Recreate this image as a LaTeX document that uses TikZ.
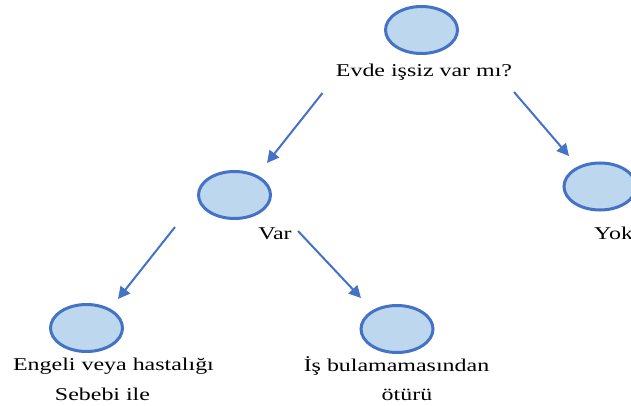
\documentclass[tikz,border=0pt]{standalone}
\usepackage{fontspec}
\setmainfont{Liberation Serif}[FakeStretch=1.33]
\usetikzlibrary{shapes.geometric,arrows.meta}
\definecolor{cfill}{HTML}{BDD7EE}
\definecolor{cline}{HTML}{4472C4}
\tikzset{
  oval/.style={ellipse,draw=cline,fill=cfill,line width=3pt,minimum width=72pt,minimum height=47pt,inner sep=0pt},
  lbl/.style={anchor=base,inner sep=0pt,font=\fontsize{18pt}{20pt}\selectfont},
  arr/.style={draw=cline,line width=2pt,-{Triangle[length=12pt,width=12pt]}}
}
\begin{document}
\begin{tikzpicture}[x=1pt,y=-1pt]
\useasboundingbox (0,0) rectangle (631,406);
\node[oval] (top) at (421.5,30) {};
\node[oval] (var) at (234.5,195) {};
\node[oval] (yok) at (600,186.5) {};
\node[oval] (eng) at (86.5,328) {};
\node[oval] (is) at (397,329) {};
\node[lbl] (ttop) at (424,77) {Evde işsiz var mı?};
\node[lbl] (tvar) at (275,239.5) {Var};
\node[lbl] (tyok) at (613.6,239) {Yok};
\node[lbl] (teng1) at (113.5,370.7) {Engeli veya hastalığı};
\node[lbl] (teng2) at (102.5,400.7) {Sebebi ile};
\node[lbl] (tis1) at (396.5,371) {İş bulamamasından};
\node[lbl] (tis2) at (407,400.7) {ötürü};
\coordinate (a1s) at (322.5,93);
\coordinate (a1e) at (267,163);
\coordinate (a2s) at (514,92);
\coordinate (a2e) at (569,156);
\coordinate (a3s) at (175,227);
\coordinate (a3e) at (118,299);
\coordinate (a4s) at (298,231);
\coordinate (a4e) at (361,298);
\draw[arr] (a1s) -- (a1e);
\draw[arr] (a2s) -- (a2e);
\draw[arr] (a3s) -- (a3e);
\draw[arr] (a4s) -- (a4e);
\end{tikzpicture}
\end{document}
